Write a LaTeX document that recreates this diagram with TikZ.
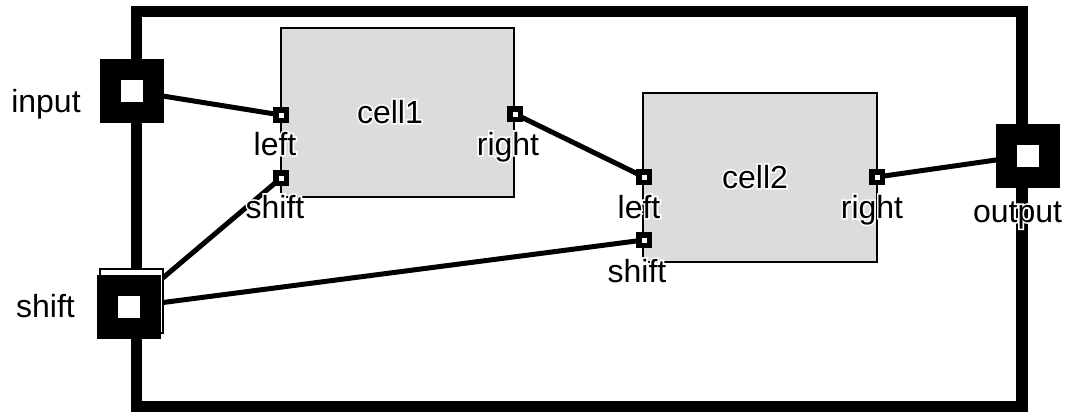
\documentclass[tikz,border=0pt]{standalone}
\usepackage{fontspec}
\setmainfont{Liberation Sans}
\newfontfamily\halofont[FakeBold=10]{Liberation Sans}
\usetikzlibrary{backgrounds}
\newcommand\myhalo[1]{\rlap{\halofont\color{white}#1}#1}
\definecolor{cellgray}{HTML}{DCDCDC}
\tikzset{
  frame/.style={draw=black, line width=11.5pt},
  cellbox/.style={draw=black, line width=2.5pt, fill=cellgray, rectangle, inner sep=0pt},
  bigport/.style={draw=black, line width=21pt, fill=white, rectangle, minimum size=43pt, inner sep=0pt},
  smallport/.style={draw=black, line width=5.5pt, fill=white, rectangle, minimum size=10.5pt, inner sep=0pt},
  ghost/.style={draw=black, line width=1.5pt, fill=white, rectangle, inner sep=0pt},
  wire/.style={draw=black, line width=5pt},
  lab/.style={anchor=base, inner sep=0pt, font=\fontsize{32}{32}\selectfont}
}
\begin{document}
\begin{tikzpicture}[x=1pt, y=-1pt]
\useasboundingbox (0,0) rectangle (1070,412);
% frame
\draw[frame] (136.5,11.5) rectangle (1022,406.5);
% cells
\node[cellbox, minimum width=233pt, minimum height=169pt] (c1) at (397.5,112.5) {};
\node[cellbox, minimum width=234pt, minimum height=169pt] (c2) at (760,177.5) {};
% outer ports
\node[ghost, minimum width=63pt, minimum height=64pt] (shg) at (131.7,301) {};
\node[bigport] (in) at (131.5,91) {};
\node[bigport] (sh) at (128.5,307) {};
\node[bigport] (out) at (1027.5,155.5) {};
% cell ports
\node[smallport] (c1l) at (281,115) {};
\node[smallport] (c1s) at (281,178) {};
\node[smallport] (c1r) at (515,114) {};
\node[smallport] (c2l) at (644,177) {};
\node[smallport] (c2s) at (644,240) {};
\node[smallport] (c2r) at (877,177) {};
% wires
\begin{scope}[on background layer]
\draw[wire] (in.center) -- (c1l.center);
\draw[wire] (sh.center) -- (c1s.center);
\draw[wire] (sh.center) -- (c2s.center);
\draw[wire] (c1r.center) -- (c2l.center);
\draw[wire] (c2r.center) -- (out.center);
\end{scope}
% labels
\node[lab] (tin) at (46,112) {input};
\node[lab] (tsh) at (45.5,317) {shift};
\node[lab] (tout) at (1017.5,222) {\myhalo{output}};
\node[lab] (tc1) at (390,123) {\myhalo{cell1}};
\node[lab] (tc2) at (755,188) {\myhalo{cell2}};
\node[lab] (tc1l) at (275,155) {\myhalo{left}};
\node[lab] (tc1s) at (275,218) {\myhalo{shift}};
\node[lab] (tc1r) at (508,155) {\myhalo{right}};
\node[lab] (tc2l) at (639,218) {\myhalo{left}};
\node[lab] (tc2s) at (637,282) {\myhalo{shift}};
\node[lab] (tc2r) at (872,218) {\myhalo{right}};
\end{tikzpicture}
\end{document}
